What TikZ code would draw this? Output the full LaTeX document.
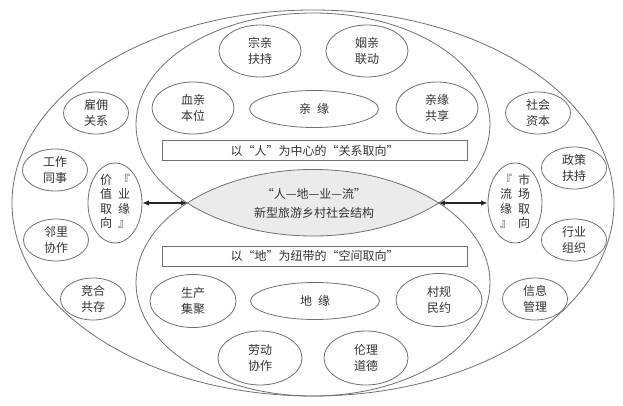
\documentclass[tikz,border=0pt]{standalone}
\usepackage{fontspec}
\setmainfont{Noto Sans CJK SC}
\usetikzlibrary{shapes.geometric,arrows.meta}
\definecolor{linegray}{HTML}{707070}
\definecolor{txtgray}{HTML}{333333}
\definecolor{lensfill}{HTML}{EBEBEB}
\newcommand{\bubfont}{\fontsize{12}{16}\selectfont}
\newcommand{\vfont}{\fontsize{12}{13.5}\selectfont}
\begin{document}
\begin{tikzpicture}[x=1pt,y=-1pt,
  outl/.style={draw=linegray,line width=0.8pt},
  bub/.style={ellipse,outl,inner sep=0pt,align=center,text=txtgray,font=\bubfont},
  inbub/.style={bub,minimum width=82pt,minimum height=52pt},
  outbub/.style={bub,minimum width=65pt,minimum height=42pt},
  corebub/.style={bub,minimum width=129pt,minimum height=37pt},
  vbub/.style={bub,minimum width=54pt,minimum height=80pt},
  labelbox/.style={rectangle,outl,minimum width=305pt,minimum height=20pt,inner sep=0pt,text=txtgray,font=\bubfont},
  lenstext/.style={align=center,text=txtgray,font=\fontsize{12}{19}\selectfont,inner sep=0pt},
  biarrow/.style={{Latex[length=6.5pt,width=5.5pt]}-{Latex[length=6.5pt,width=5.5pt]},draw=black!85,line width=1.2pt}]
\fill[white] (0,0) rectangle (623,406);
\useasboundingbox (0,0) rectangle (623,406);
% lens
\begin{scope}
  \clip (313,124.5) ellipse [x radius=177pt, y radius=111.5pt];
  \fill[lensfill] (313,282.74) ellipse [x radius=177pt, y radius=113.26pt];
\end{scope}
\draw[outl] (313,203) ellipse [x radius=301pt, y radius=193pt];
\draw[outl] (313,124.5) ellipse [x radius=177pt, y radius=111.5pt];
\draw[outl] (313,282.74) ellipse [x radius=177pt, y radius=113.26pt];
\coordinate (tipL) at (187.3,203);
\coordinate (tipR) at (438.7,203);
% upper part
\node[inbub] (zongqin) at (260,51) {宗亲\\扶持};
\node[inbub] (yinqin) at (367,51) {姻亲\\联动};
\node[inbub] (xueqin) at (193,108) {血亲\\本位};
\node[corebub] (qinyuan) at (314,109) {亲\hspace{6pt}缘};
\node[inbub] (gongxiang) at (437,108) {亲缘\\共享};
\node[labelbox] (box1) at (314.5,150.5) {以“人”为中心的“关系取向”};
% centre
\node[lenstext] (core) at (314,203) {“人—地—业—流”\\新型旅游乡村社会结构};
% lower part
\node[labelbox] (box2) at (314.5,256) {以“地”为纽带的“空间取向”};
\node[inbub,minimum width=86pt,minimum height=53pt] (shengchan) at (193,301) {生产\\集聚};
\node[corebub] (diyuan) at (315,301) {地\hspace{6pt}缘};
\node[inbub,minimum width=86pt,minimum height=53pt] (cungui) at (439,300) {村规\\民约};
\node[inbub,minimum width=84pt,minimum height=54pt] (laodong) at (260,358) {劳动\\协作};
\node[inbub,minimum width=84pt,minimum height=54pt] (lunli) at (366,358) {伦理\\道德};
% outer left
\node[outbub] (guyong) at (96,113) {雇佣\\关系};
\node[outbub] (gongzuo) at (55,170) {工作\\同事};
\node[outbub] (linli) at (56,240) {邻里\\协作};
\node[outbub] (jinghe) at (93,299) {竞合\\共存};
% outer right
\node[outbub] (shehui) at (538,113) {社会\\资本};
\node[outbub] (zhengce) at (574,168) {政策\\扶持};
\node[outbub] (hangye) at (574,240) {行业\\组织};
\node[outbub] (xinxi) at (535,299) {信息\\管理};
% vertical bubbles
\node[vbub] (yeyuan) at (115,203) {\vfont\begin{tabular}{@{}c@{\hspace{6pt}}c@{}}价&『\\值&业\\取&缘\\向&』\end{tabular}};
\node[vbub] (liuyuan) at (515,203) {\vfont\begin{tabular}{@{}c@{\hspace{6pt}}c@{}}『&市\\流&场\\缘&取\\』&向\end{tabular}};
% arrows
\draw[biarrow] (yeyuan.east) -- (tipL);
\draw[biarrow] (tipR) -- (liuyuan.west);
\end{tikzpicture}
\end{document}
